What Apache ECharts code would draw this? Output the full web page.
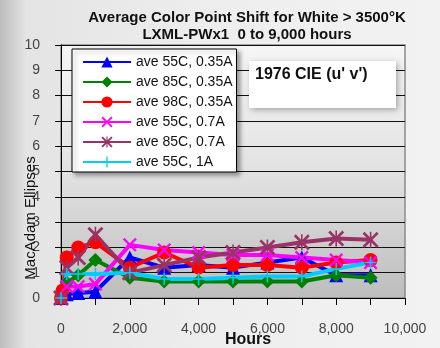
<!DOCTYPE html>
<html>
<head>
<meta charset="utf-8">
<script src="https://cdn.jsdelivr.net/npm/echarts@6/dist/echarts.min.js"></script>
<style>
  html, body { margin: 0; padding: 0; }
  #main { width: 440px; height: 348px; }
</style>
</head>
<body>
<div id="main"></div>
<script>
// hours on the x axis
const hours = [0, 48, 168, 500, 1000, 2000, 3000, 4000, 5000, 6000, 7000, 8000, 9000];

// MacAdam ellipses
const ave55c035 = [0, null, 0.15, 0.2, 0.25, 1.6, 1.2, 1.3, 1.2, 1.4, 1.6, 0.9, 0.9];
const ave85c035 = [0, null, 0.6, 0.9, 1.5, 0.8, 0.65, 0.65, 0.65, 0.65, 0.65, 0.9, 0.8];
const ave98c035 = [0, 0.3, 1.6, 2.0, 2.2, 1.2, 1.8, 1.2, 1.3, 1.3, 1.2, 1.4, 1.5];
const ave55c07 = [0, null, 0.45, 0.45, 0.55, 2.1, 1.9, 1.8, 1.7, 1.7, 1.6, 1.5, 1.4];
const ave85c07 = [0, null, 1.2, 1.6, 2.5, 1.0, 1.3, 1.6, 1.8, 2.0, 2.2, 2.35, 2.3];
const ave55c1 = [0, null, 0.95, 0.95, 0.95, 1.0, 0.75, 0.75, 0.8, 0.85, 0.85, 1.15, 1.4];

const seriesNames = ['ave 55C, 0.35A', 'ave 85C, 0.35A', 'ave 98C, 0.35A', 'ave 55C, 0.7A', 'ave 85C, 0.7A', 'ave 55C, 1A'];

// marker shapes
const xMark = 'path://M0,1.2L1.2,0L5,3.8L8.8,0L10,1.2L6.2,5L10,8.8L8.8,10L5,6.2L1.2,10L0,8.8L3.8,5Z';
const plusMark = 'path://M4.4,0H5.6V4.4H10V5.6H5.6V10H4.4V5.6H0V4.4H4.4Z';
const starMark = 'path://M0,1.2L1.2,0L5,3.8L8.8,0L10,1.2L6.2,5L10,8.8L8.8,10L5,6.2L1.2,10L0,8.8L3.8,5ZM4.5,0H5.5V10H4.5Z';

function pairs(vals) {
  return hours.map((h, i) => [h, vals[i]]);
}

function makeSeries(name, vals, color, symbol, size) {
  return {
    name: name,
    type: 'line',
    data: pairs(vals),
    connectNulls: true,
    symbol: symbol,
    symbolSize: size,
    lineStyle: { color: color, width: 4 },
    itemStyle: { color: color },
    emphasis: { disabled: true }
  };
}

const chart = echarts.init(document.getElementById('main'));

const option = {
  animation: false,
  backgroundColor: {
    type: 'linear', x: 0, y: 0, x2: 1, y2: 0,
    colorStops: [
      { offset: 0, color: '#bdbdbd' },
      { offset: 0.06, color: '#e4e4e4' },
      { offset: 0.5, color: '#eeeeee' },
      { offset: 1, color: '#f2f2f2' }
    ]
  },
  title: {
    text: 'Average Color Point Shift for White > 3500°K\nLXML-PWx1  0 to 9,000 hours',
    left: 242,
    top: 4,
    textAlign: 'center',
    textStyle: {
      fontFamily: 'Liberation Sans',
      fontSize: 15,
      fontWeight: 'bold',
      color: '#111',
      lineHeight: 17
    }
  },
  legend: {
    orient: 'vertical',
    left: 72,
    top: 49,
    data: seriesNames,
    itemWidth: 48,
    itemHeight: 14,
    itemGap: 6,
    padding: [6, 4, 3, 10],
    backgroundColor: '#ffffff',
    borderColor: '#000',
    borderWidth: 1,
    shadowColor: 'rgba(0,0,0,0.35)',
    shadowBlur: 4,
    shadowOffsetX: 3,
    shadowOffsetY: 3,
    textStyle: {
      fontFamily: 'Liberation Sans',
      fontSize: 14,
      color: '#111'
    }
  },
  grid: {
    left: 61,
    right: 35,
    top: 45,
    bottom: 50,
    show: true,
    borderColor: '#8a8a8a',
    borderWidth: 1.5,
    backgroundColor: {
      type: 'linear', x: 0, y: 0, x2: 0, y2: 1,
      colorStops: [
        { offset: 0, color: '#f6f6f6' },
        { offset: 0.5, color: '#e2e2e2' },
        { offset: 1, color: '#bdbdbd' }
      ]
    }
  },
  xAxis: {
    type: 'value',
    min: 0,
    max: 10000,
    interval: 1000,
    axisLine: { show: true, lineStyle: { color: '#000', width: 1 } },
    axisTick: { show: true, inside: false, length: 7, lineStyle: { color: '#000' } },
    splitLine: { show: false },
    axisLabel: {
      margin: 24,
      fontFamily: 'Liberation Sans',
      fontSize: 14,
      color: '#444',
      formatter: v => (v % 2000 === 0 ? v.toLocaleString('en-US') : '')
    }
  },
  yAxis: {
    type: 'value',
    min: 0,
    max: 10,
    interval: 1,
    axisLine: { show: true, lineStyle: { color: '#000', width: 1 } },
    axisTick: { show: true, inside: false, length: 6, lineStyle: { color: '#000' } },
    splitLine: { show: true, lineStyle: { color: '#111', width: 1 } },
    axisLabel: {
      margin: 21,
      fontFamily: 'Liberation Sans',
      fontSize: 14,
      color: '#444'
    }
  },
  graphic: [
    {
      type: 'group',
      left: 249,
      top: 61,
      z: 100,
      children: [
        {
          type: 'rect',
          z: 100,
          shape: { x: 0, y: 0, width: 147, height: 47 },
          style: { fill: '#ffffff', shadowColor: 'rgba(0,0,0,0.3)', shadowBlur: 6, shadowOffsetX: 2, shadowOffsetY: 2 }
        },
        {
          type: 'text',
          z: 101,
          x: 6,
          y: 6,
          style: {
            text: "1976 CIE (u' v')",
            fontFamily: 'Liberation Sans',
            fontSize: 16,
            fontWeight: 'bold',
            fill: '#111'
          }
        }
      ]
    },
    {
      type: 'text',
      x: 31,
      y: 218,
      z: 100,
      rotation: Math.PI / 2,
      style: {
        text: 'MacAdam Ellipses',
        fontFamily: 'Liberation Sans',
        fontSize: 15,
        fill: '#111',
        align: 'center',
        verticalAlign: 'middle'
      }
    },
    {
      type: 'text',
      x: 248,
      y: 340,
      z: 100,
      style: {
        text: 'Hours',
        fontFamily: 'Liberation Sans',
        fontSize: 16,
        fontWeight: 'bold',
        fill: '#111',
        align: 'center',
        verticalAlign: 'middle'
      }
    }
  ],
  series: [
    makeSeries(seriesNames[0], ave55c035, '#0000ff', 'triangle', 14),
    makeSeries(seriesNames[1], ave85c035, '#008000', 'diamond', 14),
    makeSeries(seriesNames[2], ave98c035, '#ff0000', 'circle', 14),
    makeSeries(seriesNames[3], ave55c07, '#ff00ff', xMark, 14),
    makeSeries(seriesNames[4], ave85c07, '#993366', starMark, 16),
    makeSeries(seriesNames[5], ave55c1, '#00ccff', plusMark, 12)
  ]
};

chart.setOption(option);
</script>
</body>
</html>
